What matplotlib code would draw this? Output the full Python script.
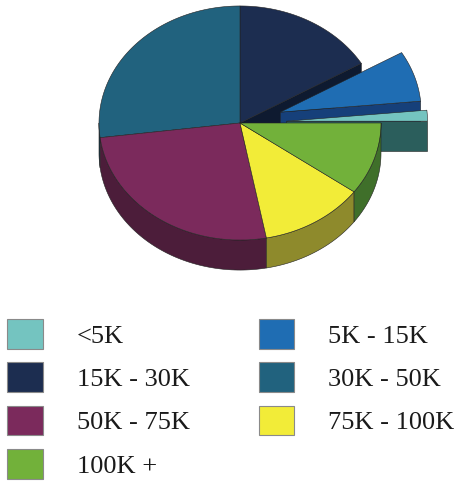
import numpy as np
import matplotlib
matplotlib.use('Agg')
from matplotlib import pyplot as plt
from matplotlib import patches as mpatches

# income brackets, share of households in percent
labels = ['<5K', '5K - 15K', '15K - 30K', '30K - 50K', '50K - 75K', '75K - 100K', '100K +']
shares = [1.5, 7.0, 16.5, 27.0, 26.0, 12.0, 10.0]
explode = [0.33, 0.30, 0, 0, 0, 0, 0]

top_colors = ['#74c4c0', '#1f6db3', '#1c2d50', '#21627e', '#7b2a5c', '#f2ec38', '#72b13a']
side_colors = ['#2b5e5c', '#16407a', '#0e1a30', '#153f52', '#4c1d3a', '#8e8a2c', '#3f6f2a']

tilt = 0.83     # squash of the top ellipse
depth = 0.213   # thickness of the pie

fig = plt.figure(figsize=(4.55, 4.88), dpi=100)
ax = fig.add_axes([0, 0, 1, 1])
ax.set_xlim(-240 / 141, (455 - 240) / 141)
ax.set_ylim(-(488 - 123) / 141, 123 / 141)
ax.axis('off')

frac = np.array(shares) / np.sum(shares)
ends = np.cumsum(frac) * 360
starts = ends - frac * 360


def rim(cx, cy, a1, a2, n=80):
    a = np.radians(np.linspace(a1, a2, n))
    return np.column_stack([cx + np.cos(a), cy + tilt * np.sin(a)])


def poly(pts, fc, z):
    ax.add_patch(mpatches.Polygon(pts, closed=True, facecolor=fc, edgecolor='#222222',
                                  linewidth=0.4, joinstyle='round', zorder=z))


centers = []
for i in range(len(shares)):
    mid = np.radians((starts[i] + ends[i]) / 2)
    centers.append((explode[i] * np.cos(mid), explode[i] * tilt * np.sin(mid)))

# radial cut faces, only where a neighbouring wedge is pulled out
faces = []
n = len(shares)
for i in range(n):
    cx, cy = centers[i]
    prev_out = explode[i] > 0 or explode[(i - 1) % n] > 0
    next_out = explode[i] > 0 or explode[(i + 1) % n] > 0
    for ang, show in ((starts[i], np.cos(np.radians(starts[i])) > 0 and prev_out),
                      (ends[i], np.cos(np.radians(ends[i])) < 0 and next_out)):
        if not show:
            continue
        a = np.radians(ang)
        px, py = cx + np.cos(a), cy + tilt * np.sin(a)
        pts = [(cx, cy), (px, py), (px, py - depth), (cx, cy - depth)]
        faces.append((cy + tilt * np.sin(a) / 2, pts, side_colors[i]))

for k, (key, pts, fc) in enumerate(sorted(faces, key=lambda f: -f[0])):
    poly(pts, fc, 1 + k * 0.01)

# front walls
for i in range(n):
    cx, cy = centers[i]
    a1, a2 = max(starts[i], 180), min(ends[i], 360)
    if a2 <= a1:
        continue
    top = rim(cx, cy, a1, a2)
    bottom = top.copy()
    bottom[:, 1] -= depth
    poly(np.vstack([top, bottom[::-1]]), side_colors[i], 2)

# top faces
for i in range(n):
    cx, cy = centers[i]
    pts = np.vstack([[(cx, cy)], rim(cx, cy, starts[i], ends[i])])
    poly(pts, top_colors[i], 3)

# legend filled row by row in two columns
order = [0, 2, 4, 6, 1, 3, 5]
handles = [mpatches.Patch(facecolor=top_colors[i], edgecolor='#8a8a8a', linewidth=0.8) for i in order]
fig.legend(handles, [labels[i] for i in order], ncol=2, loc='upper left',
           bbox_to_anchor=(7 / 455, 1 - 319 / 488), frameon=False,
           prop={'family': 'Liberation Serif', 'size': 19},
           handlelength=1.35, handleheight=1.35, handletextpad=1.3,
           labelspacing=0.52, columnspacing=2.6, borderpad=0, borderaxespad=0,
           labelcolor='#1a1a1a')

plt.savefig('out.png', dpi=100)
